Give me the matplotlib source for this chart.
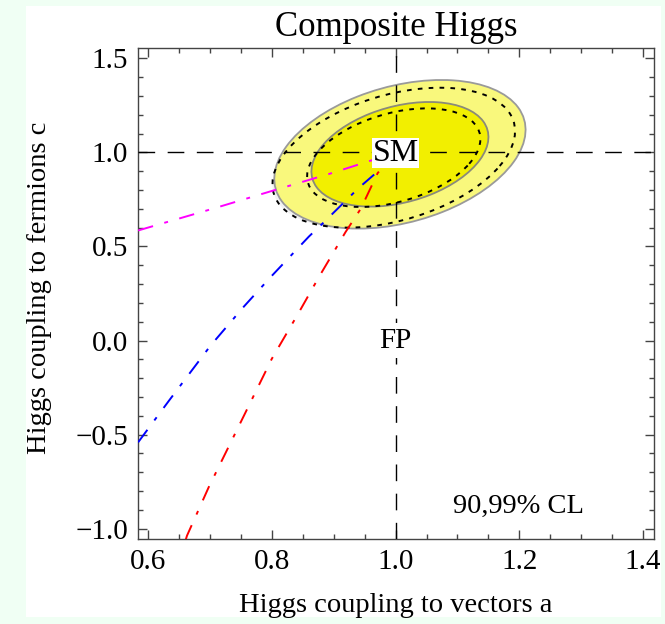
import numpy as np
import matplotlib
matplotlib.use('Agg')
import matplotlib.pyplot as plt
from matplotlib.patches import Ellipse, Rectangle
from matplotlib.ticker import MultipleLocator, FuncFormatter

plt.rcParams['font.family'] = ['Liberation Serif', 'DejaVu Serif']

# curves (a, c)
mag_a = [0.584, 0.706, 0.803, 0.895, 0.971, 1.0]
mag_c = [0.585, 0.702, 0.798, 0.888, 0.968, 1.0]

blue_a = [0.584, 0.634, 0.701, 0.755, 0.798, 0.860, 0.882, 0.940, 0.973, 1.0]
blue_c = [-0.541, -0.319, -0.027, 0.181, 0.337, 0.553, 0.622, 0.810, 0.904, 1.0]

red_a = [0.661, 0.663, 0.698, 0.755, 0.800, 0.844, 0.876, 0.919, 0.944, 0.971, 1.0]
red_c = [-1.058, -1.037, -0.780, -0.399, -0.097, 0.151, 0.337, 0.576, 0.702, 0.890, 1.0]

# fit contours: center, sigma_a, sigma_c, correlation (99% outer, 90% inner)
fit_center = (1.007, 0.99)
fit_outer = (0.203, 0.395, 0.33)
fit_inner = (0.143, 0.278, 0.33)
dot_center = (0.997, 0.972)
dot_outer = (0.196, 0.372, 0.38)
dot_inner = (0.140, 0.262, 0.38)


def make_ellipse(center, pars, **kw):
    sx, sy, rho = pars
    cov = np.array([[sx * sx, rho * sx * sy], [rho * sx * sy, sy * sy]])
    vals, vecs = np.linalg.eigh(cov)
    ang = np.degrees(np.arctan2(vecs[1, 1], vecs[0, 1]))
    return Ellipse(center, 2 * np.sqrt(vals[1]), 2 * np.sqrt(vals[0]), angle=ang, **kw)


def fmt(v, pos):
    return ('%.1f' % v).replace('-', '\u2212')


fig = plt.figure(figsize=(6.65, 6.24), dpi=100, facecolor='#f0fff4')
fig.add_artist(Rectangle((26 / 665, 7 / 624), 635 / 665, 611 / 624, transform=fig.transFigure,
                         facecolor='white', edgecolor='none', zorder=-10))
ax = fig.add_axes([138 / 665, 85 / 624, 516 / 665, 491 / 624])

# contours
ax.add_patch(make_ellipse(dot_center, dot_outer, facecolor='#f2f2f2', edgecolor='none', zorder=1))
ax.add_patch(make_ellipse(fit_center, fit_outer, facecolor='#f9f87c', edgecolor='#9a9a9a', lw=1.3, zorder=2))
ax.add_patch(make_ellipse(fit_center, fit_inner, facecolor='#f2ef00', edgecolor='#8a8a7a', lw=1.3, zorder=3))
ax.add_patch(make_ellipse(dot_center, dot_outer, facecolor='none', edgecolor='black', lw=1.4,
                          linestyle=(0, (2.4, 3.2)), zorder=4))
ax.add_patch(make_ellipse(dot_center, dot_inner, facecolor='none', edgecolor='black', lw=1.4,
                          linestyle=(0, (2.4, 3.2)), zorder=4))

# SM reference lines
ax.axhline(1.0, color='black', lw=1.0, linestyle=(0, (12, 9)), zorder=5)
ax.axvline(1.0, color='black', lw=1.0, linestyle=(0, (12, 9)), zorder=5)

# model curves
dd = (0, (8, 6, 2, 6))
ax.plot(mag_a, mag_c, color='magenta', lw=1.4, linestyle=dd, zorder=6)
ax.plot(blue_a, blue_c, color='blue', lw=1.4, linestyle=dd, zorder=6)
ax.plot(red_a, red_c, color='red', lw=1.4, linestyle=dd, zorder=6)

ax.text(1.0, 0.995, 'SM', fontsize=23, ha='center', va='center', zorder=8,
        bbox=dict(facecolor='white', edgecolor='none', pad=0.5))
ax.text(1.0, 0.0, 'FP', fontsize=21, ha='center', va='center', zorder=8,
        bbox=dict(facecolor='white', edgecolor='none', pad=3))
ax.text(1.198, -0.88, '90,99% CL', fontsize=20.5, ha='center', va='center', zorder=8)

ax.set_xlim(0.5838, 1.4175)
ax.set_ylim(-1.055, 1.555)
ax.xaxis.set_major_locator(MultipleLocator(0.2))
ax.xaxis.set_minor_locator(MultipleLocator(0.05))
ax.yaxis.set_major_locator(MultipleLocator(0.5))
ax.yaxis.set_minor_locator(MultipleLocator(0.1))
ax.xaxis.set_major_formatter(FuncFormatter(fmt))
ax.yaxis.set_major_formatter(FuncFormatter(fmt))
ax.tick_params(which='both', direction='in', top=True, right=True, labelsize=21,
               color='#444444', width=1.0, pad=7)
ax.tick_params(which='major', length=6.5)
ax.tick_params(which='minor', length=3.5)
for s in ax.spines.values():
    s.set_color('#444444')
    s.set_linewidth(1.0)

ax.set_title('Composite Higgs', fontsize=25, pad=9)
ax.set_xlabel('Higgs coupling to vectors a', fontsize=20.5, labelpad=13)
ax.set_ylabel('Higgs coupling to fermions c', fontsize=20.5)
ax.yaxis.set_label_coords(-0.166, 0.512)

fig.savefig('out.png', dpi=100, facecolor=fig.get_facecolor())
